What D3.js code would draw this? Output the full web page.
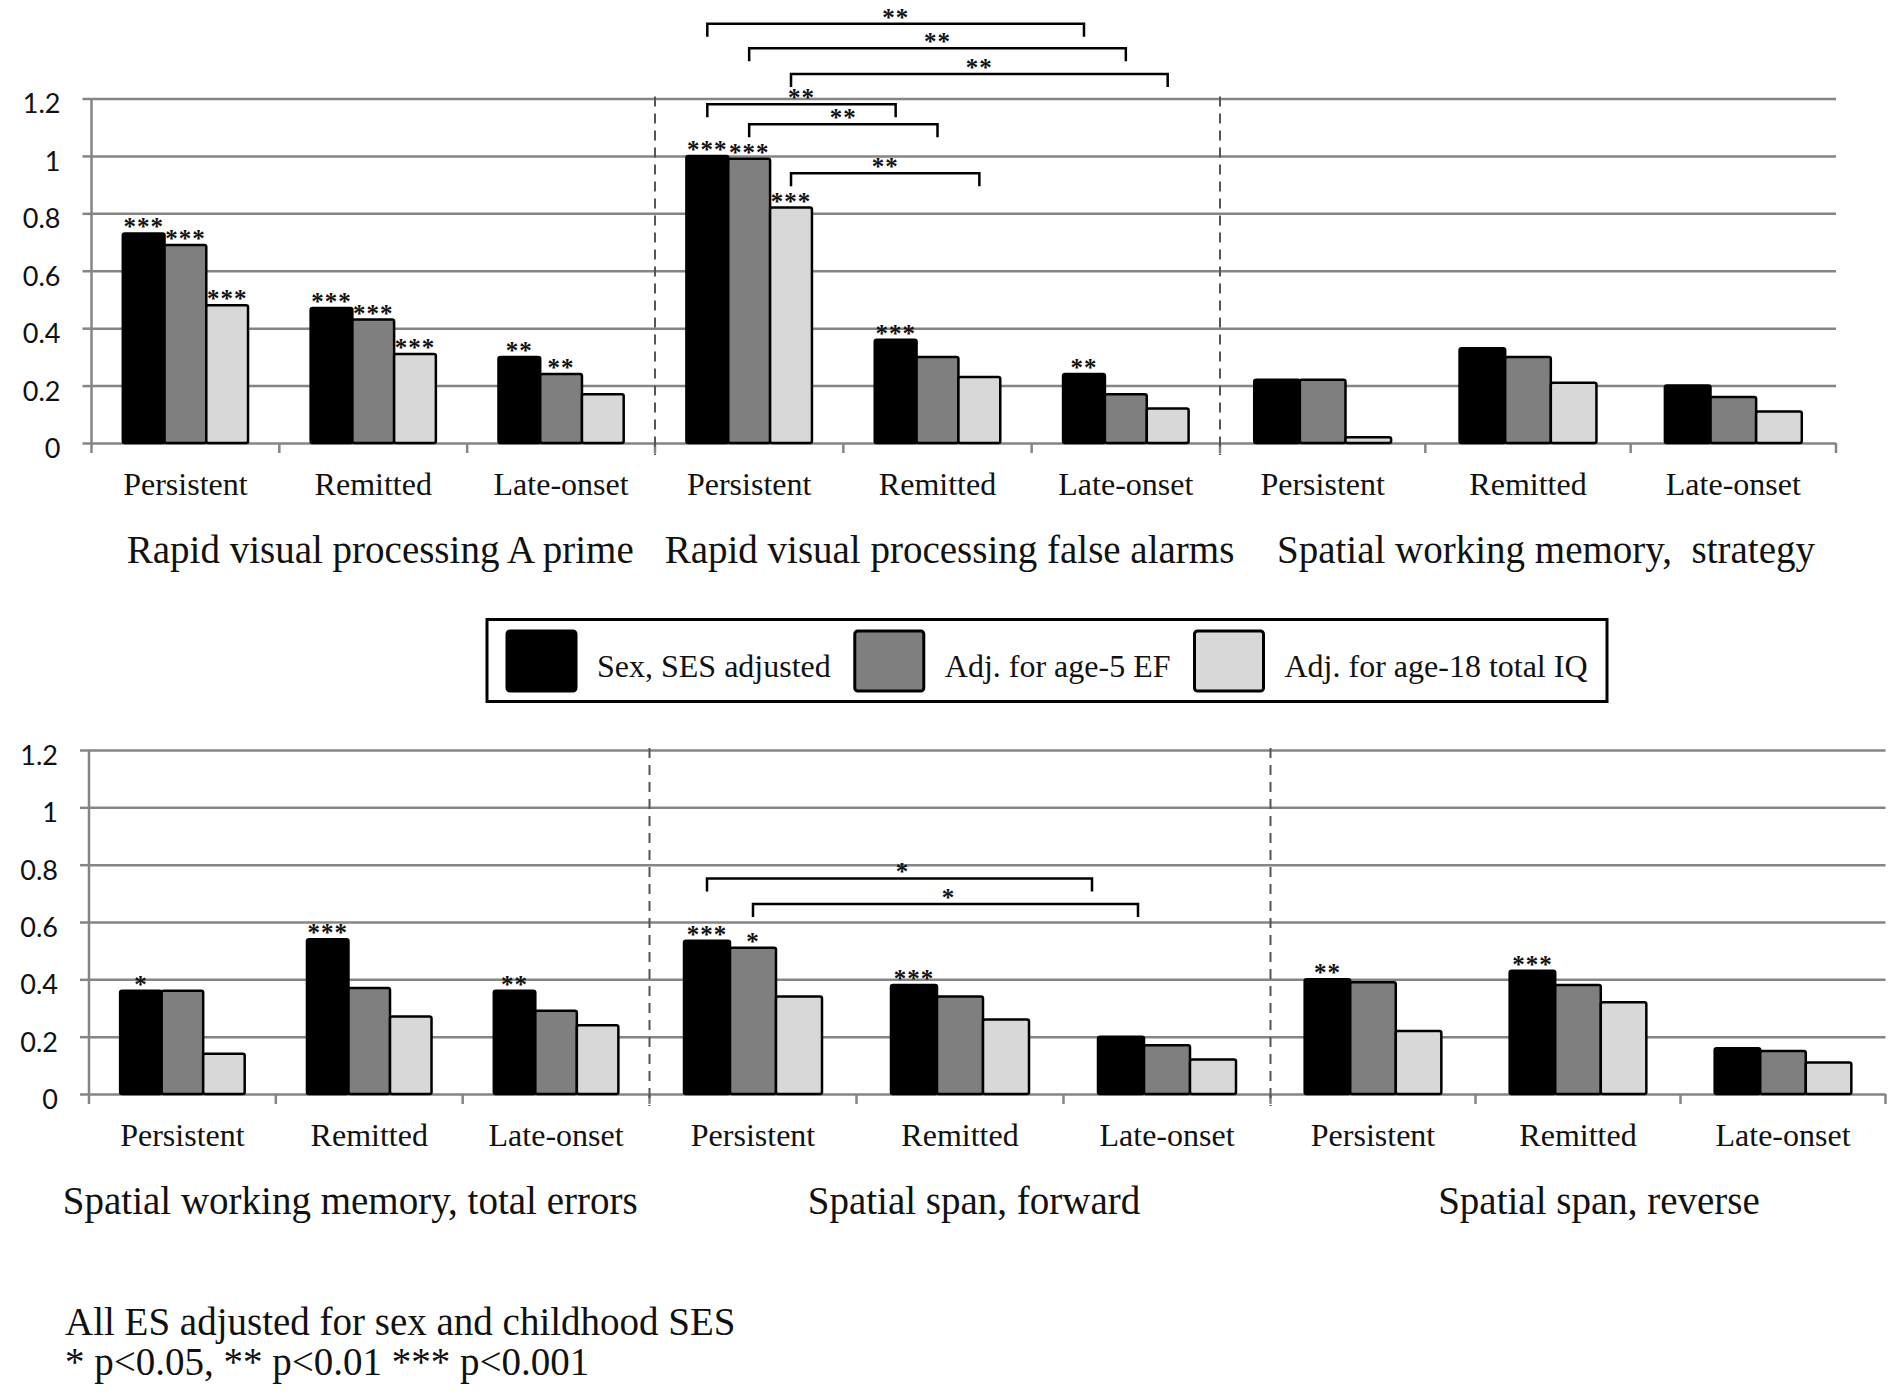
<!DOCTYPE html>
<html>
<head>
<meta charset="utf-8">
<script src="https://cdn.jsdelivr.net/npm/d3@7"></script>
<style>
  html, body { margin: 0; padding: 0; background: #fff; }
  svg { display: block; }
  .serif { font-family: "Liberation Serif", "Times New Roman", serif; fill: #111; white-space: pre; }
  .ytick text { font-family: Lato, Calibri, "Open Sans", sans-serif; font-size: 27px; fill: #111; }
</style>
</head>
<body>
<div id="chart"></div>
<script>
/* ES bar charts: CANTAB outcomes by ADHD group, three adjustment models */

const categories = ['Persistent', 'Remitted', 'Late-onset'];
const seriesNames = ['Sex, SES adjusted', 'Adj. for age-5 EF', 'Adj. for age-18 total IQ'];
const yTicks = [0, 0.2, 0.4, 0.6, 0.8, 1, 1.2];
const yTickLabels = ['0', '0.2', '0.4', '0.6', '0.8', '1', '1.2'];

// top row
const topTitles = ['Rapid visual processing A prime', 'Rapid visual processing false alarms', 'Spatial working memory,  strategy'];
const topSexSES = [0.73, 0.47, 0.30, 1.00, 0.36, 0.24, 0.22, 0.33, 0.20];
const topAge5EF = [0.69, 0.43, 0.24, 0.99, 0.30, 0.17, 0.22, 0.30, 0.16];
const topAge18IQ = [0.48, 0.31, 0.17, 0.82, 0.23, 0.12, 0.02, 0.21, 0.11];
const topStarsSex = ['***', '***', '**', '***', '***', '**', '', '', ''];
const topStarsEF = ['***', '***', '**', '***', '', '', '', '', ''];
const topStarsIQ = ['***', '***', '', '***', '', '', '', '', ''];
const topBrackets = [
  { group: 1, series: 0, from: 'Persistent', to: 'Late-onset', level: 1.46, label: '**' },
  { group: 1, series: 1, from: 'Persistent', to: 'Late-onset', level: 1.375, label: '**' },
  { group: 1, series: 2, from: 'Persistent', to: 'Late-onset', level: 1.285, label: '**' },
  { group: 1, series: 0, from: 'Persistent', to: 'Remitted', level: 1.18, label: '**' },
  { group: 1, series: 1, from: 'Persistent', to: 'Remitted', level: 1.11, label: '**' },
  { group: 1, series: 2, from: 'Persistent', to: 'Remitted', level: 0.94, label: '**' },
];

// bottom row
const bottomTitles = ['Spatial working memory, total errors', 'Spatial span, forward', 'Spatial span, reverse'];
const bottomSexSES = [0.36, 0.54, 0.36, 0.535, 0.38, 0.20, 0.40, 0.43, 0.16];
const bottomAge5EF = [0.36, 0.37, 0.29, 0.51, 0.34, 0.17, 0.39, 0.38, 0.15];
const bottomAge18IQ = [0.14, 0.27, 0.24, 0.34, 0.26, 0.12, 0.22, 0.32, 0.11];
const bottomStarsSex = ['*', '***', '**', '***', '***', '', '**', '***', ''];
const bottomStarsEF = ['', '', '', '*', '', '', '', '', ''];
const bottomStarsIQ = ['', '', '', '', '', '', '', '', ''];
// these two end on the left edge of the late-onset bar, not its middle
const bottomBrackets = [
  { group: 1, series: 0, from: 'Persistent', to: 'Late-onset', level: 0.752, label: '*', toEdge: true },
  { group: 1, series: 1, from: 'Persistent', to: 'Late-onset', level: 0.663, label: '*', toEdge: true },
];

const footnotes = ['All ES adjusted for sex and childhood SES', '* p<0.05, ** p<0.01 *** p<0.001'];

const COLORS = ['#000000', '#7f7f7f', '#d8d8d8'];
const GRID = '#858585';
const W = 1900, H = 1394;

const PANELS = [
  {
    titles: topTitles,
    values: [topSexSES, topAge5EF, topAge18IQ],
    stars: [topStarsSex, topStarsEF, topStarsIQ],
    brackets: topBrackets,
    x0: 91.5, groupWidths: [563.5, 565, 616], yZero: 443, yTop: 98.5,
    titleShift: [7, 12, 18],
  },
  {
    titles: bottomTitles,
    values: [bottomSexSES, bottomAge5EF, bottomAge18IQ],
    stars: [bottomStarsSex, bottomStarsEF, bottomStarsIQ],
    brackets: bottomBrackets,
    x0: 89, groupWidths: [560.5, 621, 615], yZero: 1094, yTop: 750,
    titleShift: [-19, 14, 21],
  },
];

const svg = d3.select('#chart').append('svg')
  .attr('width', W).attr('height', H)
  .attr('viewBox', `0 0 ${W} ${H}`);

svg.append('rect').attr('width', W).attr('height', H).attr('fill', '#fff');

PANELS.forEach(drawPanel);
drawLegend();
drawFootnote();

function drawPanel(p) {
  const g = svg.append('g');
  const y = d3.scaleLinear().domain([0, 1.2]).range([p.yZero, p.yTop]);
  const edges = [p.x0];
  p.groupWidths.forEach(w => edges.push(edges[edges.length - 1] + w));
  const xEnd = edges[edges.length - 1];

  // gridlines
  g.append('g')
    .attr('transform', `translate(${p.x0},0)`)
    .call(d3.axisLeft(y).tickValues(yTicks).tickSize(-(xEnd - p.x0)).tickFormat(''))
    .call(s => s.select('.domain').remove())
    .call(s => s.selectAll('line').attr('stroke', GRID).attr('stroke-width', 2.5));

  // y axis ticks + labels
  g.append('g')
    .attr('class', 'ytick')
    .attr('transform', `translate(${p.x0},0)`)
    .call(d3.axisLeft(y).tickValues(yTicks).tickSize(9).tickPadding(22)
      .tickFormat((d, i) => yTickLabels[i]))
    .call(s => s.select('.domain').remove())
    .call(s => s.selectAll('line').attr('stroke', GRID).attr('stroke-width', 2.5))
    .call(s => s.selectAll('text').attr('dy', '0.72em').attr('y', -5));

  // vertical axis line
  g.append('line')
    .attr('x1', p.x0).attr('x2', p.x0)
    .attr('y1', p.yTop).attr('y2', p.yZero + 10)
    .attr('stroke', GRID).attr('stroke-width', 2.5);

  const bands = p.groupWidths.map((w, gi) =>
    d3.scaleBand().domain(categories).range([edges[gi], edges[gi + 1]]));

  bands.forEach((xb, gi) => {
    const inner = d3.scaleBand().domain(d3.range(seriesNames.length))
      .range([0, xb.bandwidth()]).paddingInner(0).paddingOuter(0.75);

    // category boundary ticks
    const bounds = categories.map(c => xb(c)).concat([edges[gi + 1]]);
    g.append('g').selectAll('line')
      .data(bounds.slice(1))
      .join('line')
      .attr('x1', d => d).attr('x2', d => d)
      .attr('y1', p.yZero).attr('y2', p.yZero + 10)
      .attr('stroke', GRID).attr('stroke-width', 2.5);

    // category labels
    g.append('g')
      .attr('transform', `translate(0,${p.yZero})`)
      .call(d3.axisBottom(xb).tickSize(0).tickPadding(0))
      .call(s => s.select('.domain').remove())
      .call(s => s.selectAll('text')
        .attr('class', 'serif')
        .attr('font-size', 32)
        .attr('dy', 0).attr('y', 52));

    // group title
    g.append('text')
      .attr('class', 'serif')
      .attr('x', (edges[gi] + edges[gi + 1]) / 2 + p.titleShift[gi])
      .attr('y', p.yZero + 120)
      .attr('text-anchor', 'middle')
      .attr('font-size', 39)
      .text(p.titles[gi]);

    // bars
    const rows = [];
    seriesNames.forEach((s, si) => categories.forEach((c, ci) => {
      rows.push({ si, c, v: p.values[si][gi * 3 + ci], star: p.stars[si][gi * 3 + ci] });
    }));

    g.append('g').selectAll('rect')
      .data(rows)
      .join('rect')
      .attr('x', d => xb(d.c) + inner(d.si))
      .attr('y', d => y(d.v))
      .attr('width', inner.bandwidth())
      .attr('height', d => y(0) - y(d.v))
      .attr('fill', d => COLORS[d.si])
      .attr('stroke', '#000')
      .attr('stroke-width', 2.5)
      .attr('rx', 2);

    g.append('g').selectAll('text')
      .data(rows.filter(d => d.star))
      .join('text')
      .attr('class', 'serif')
      .attr('x', d => xb(d.c) + inner(d.si) + inner.bandwidth() / 2)
      .attr('y', d => y(d.v) + 2)
      .attr('text-anchor', 'middle')
      .attr('font-size', 25)
      .attr('font-weight', 'bold')
      .attr('letter-spacing', 1)
      .text(d => d.star);

    // significance brackets
    const br = p.brackets.filter(b => b.group === gi);
    const bx = (c, si, edge) => xb(c) + inner(si) + (edge ? 0 : inner.bandwidth() / 2);
    g.append('g').selectAll('path')
      .data(br)
      .join('path')
      .attr('d', b => {
        const yb = y(b.level);
        return `M${bx(b.from, b.series)},${yb + 13}V${yb}H${bx(b.to, b.series, b.toEdge) - (b.toEdge ? 6 : 0)}V${yb + 13}`;
      })
      .attr('fill', 'none')
      .attr('stroke', '#000')
      .attr('stroke-width', 2.5);

    g.append('g').selectAll('text')
      .data(br)
      .join('text')
      .attr('class', 'serif')
      .attr('x', b => (bx(b.from, b.series) + bx(b.to, b.series, b.toEdge)) / 2)
      .attr('y', b => y(b.level) + 2)
      .attr('text-anchor', 'middle')
      .attr('font-size', 25)
      .attr('font-weight', 'bold')
      .attr('letter-spacing', 1)
      .text(b => b.label);
  });

  // dashed group dividers
  g.append('g').selectAll('line')
    .data(edges.slice(1, -1))
    .join('line')
    .attr('x1', d => d).attr('x2', d => d)
    .attr('y1', p.yTop - 2).attr('y2', p.yZero + 12)
    .attr('stroke', '#555').attr('stroke-width', 2)
    .attr('stroke-dasharray', '10,7');
}

function drawLegend() {
  const g = svg.append('g');
  g.append('rect')
    .attr('x', 487).attr('y', 619.5)
    .attr('width', 1120).attr('height', 82)
    .attr('fill', '#fff').attr('stroke', '#000').attr('stroke-width', 3);

  let x = 507;
  seriesNames.forEach((name, i) => {
    g.append('rect')
      .attr('x', x).attr('y', 631)
      .attr('width', 69).attr('height', 60)
      .attr('rx', 3)
      .attr('fill', COLORS[i]).attr('stroke', '#000').attr('stroke-width', 3);
    const t = g.append('text')
      .attr('class', 'serif')
      .attr('x', x + 90).attr('y', 677)
      .attr('font-size', 32)
      .text(name);
    x += 90 + t.node().getComputedTextLength() + 24;
  });
}

function drawFootnote() {
  svg.append('g').selectAll('text')
    .data(footnotes)
    .join('text')
    .attr('class', 'serif')
    .attr('x', 65)
    .attr('y', (d, i) => 1335 + i * 40)
    .attr('font-size', 39)
    .text(d => d);
}
</script>
</body>
</html>
